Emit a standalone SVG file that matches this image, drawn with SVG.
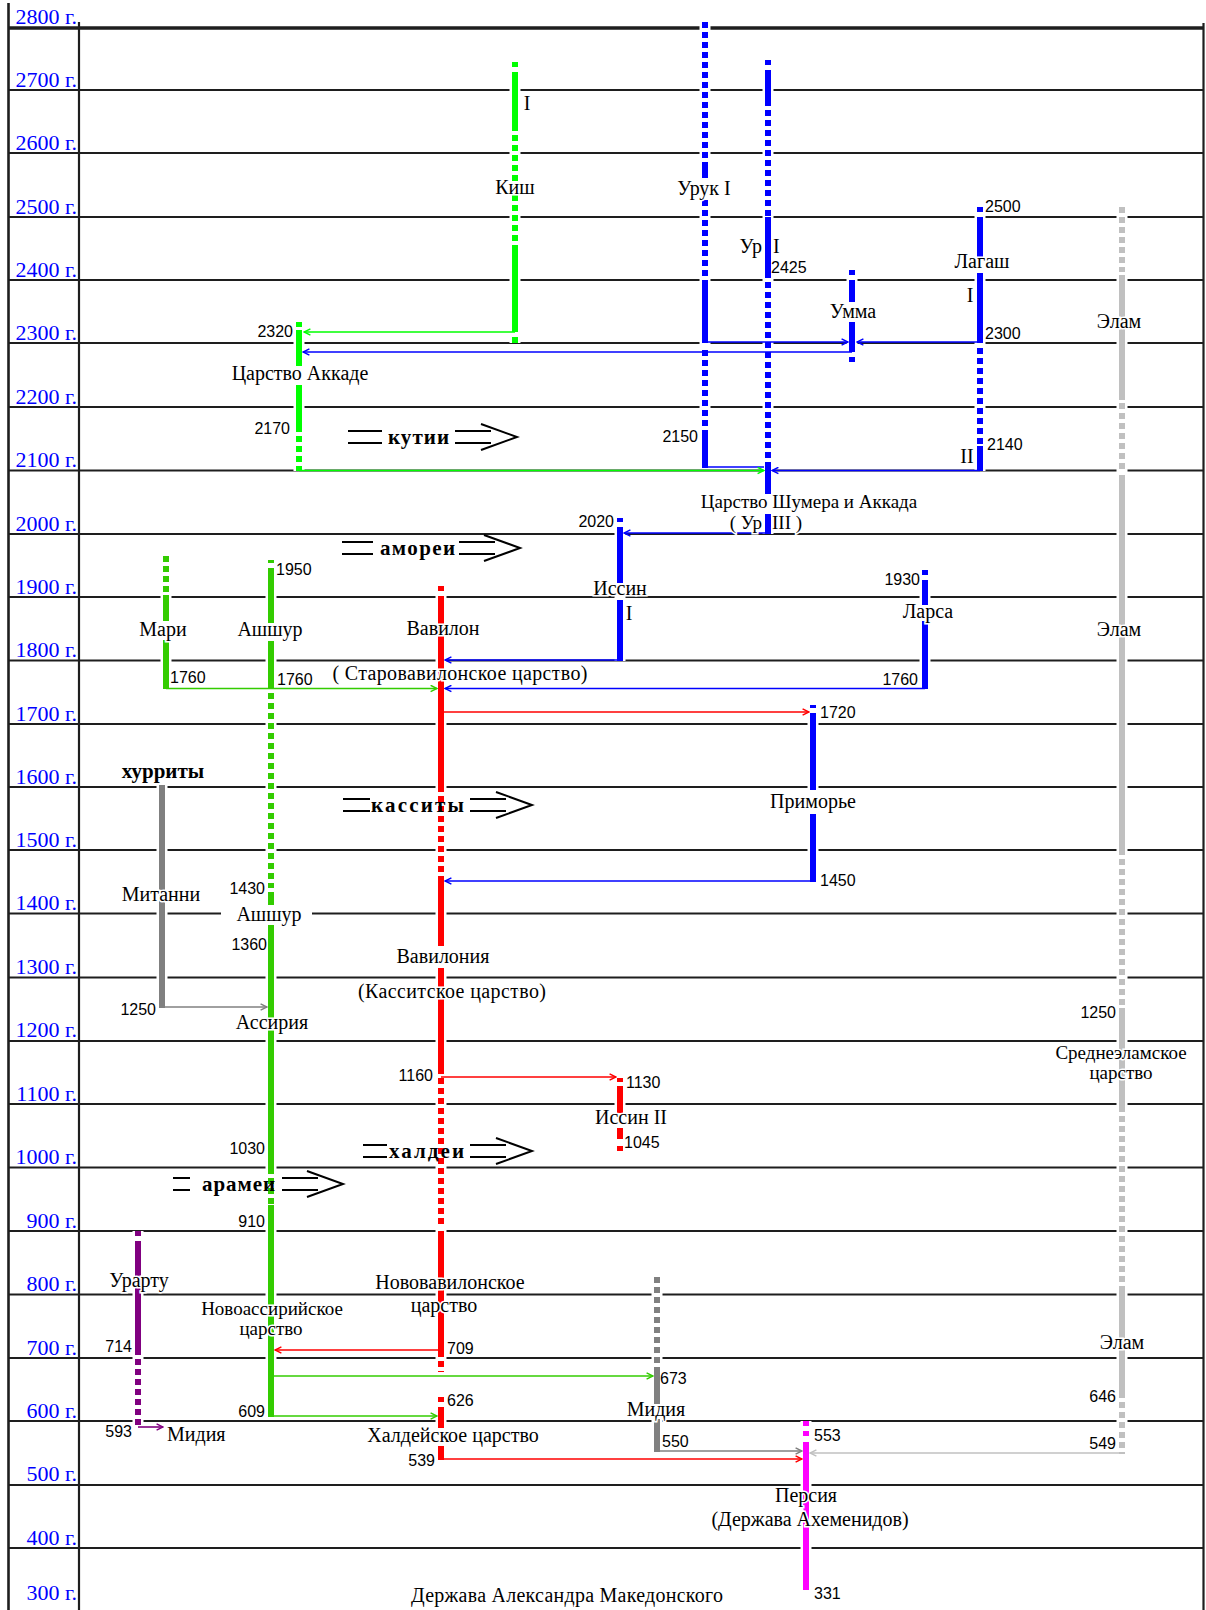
<svg xmlns="http://www.w3.org/2000/svg" width="1206" height="1610" viewBox="0 0 1206 1610">
<defs>
<style>
.grid{stroke:#1e1e1e;stroke-width:2;fill:none}
.frame{stroke:#1e1e1e;fill:none}
.mask{stroke:#fff;stroke-width:11;fill:none}
.bar{fill:none;stroke-width:6}
.dot{stroke-dasharray:6 4}
.g1{stroke:#00ff00}.g2{stroke:#33cc00}.b{stroke:#0000ff}.r{stroke:#ff0000}
.gr{stroke:#808080}.lg{stroke:#c0c0c0}.p{stroke:#800080}.m{stroke:#ff00ff}
.conn{fill:none;stroke-width:1.6}
.yr{font-family:"Liberation Serif",serif;font-size:22px;fill:#0000ff;text-anchor:end}
.lbl{font-family:"Liberation Serif",serif;font-size:20px;fill:#000;text-anchor:middle;stroke:#fff;stroke-width:3;paint-order:stroke}
.sm{font-size:19px}
.ls{text-anchor:start}.le{text-anchor:end}
.num{font-family:"Liberation Sans",sans-serif;font-size:16px;fill:#000}
.ne{text-anchor:end}
.mig{font-family:"Liberation Serif",serif;font-size:21px;font-weight:bold;fill:#000}
.migl{stroke:#000;stroke-width:2;fill:none}
</style>
<marker id="aG1" viewBox="0 0 10 10" refX="9" refY="5" markerWidth="8" markerHeight="8" markerUnits="userSpaceOnUse" orient="auto"><path d="M1,1 L9,5 L1,9" fill="none" stroke="#00ff00" stroke-width="1.8"/></marker>
<marker id="aG2" viewBox="0 0 10 10" refX="9" refY="5" markerWidth="8" markerHeight="8" markerUnits="userSpaceOnUse" orient="auto"><path d="M1,1 L9,5 L1,9" fill="none" stroke="#33cc00" stroke-width="1.8"/></marker>
<marker id="aB" viewBox="0 0 10 10" refX="9" refY="5" markerWidth="8" markerHeight="8" markerUnits="userSpaceOnUse" orient="auto"><path d="M1,1 L9,5 L1,9" fill="none" stroke="#0000ff" stroke-width="1.8"/></marker>
<marker id="aR" viewBox="0 0 10 10" refX="9" refY="5" markerWidth="8" markerHeight="8" markerUnits="userSpaceOnUse" orient="auto"><path d="M1,1 L9,5 L1,9" fill="none" stroke="#ff0000" stroke-width="1.8"/></marker>
<marker id="aGR" viewBox="0 0 10 10" refX="9" refY="5" markerWidth="8" markerHeight="8" markerUnits="userSpaceOnUse" orient="auto"><path d="M1,1 L9,5 L1,9" fill="none" stroke="#808080" stroke-width="1.8"/></marker>
<marker id="aLG" viewBox="0 0 10 10" refX="9" refY="5" markerWidth="8" markerHeight="8" markerUnits="userSpaceOnUse" orient="auto"><path d="M1,1 L9,5 L1,9" fill="none" stroke="#c0c0c0" stroke-width="1.8"/></marker>
<marker id="aP" viewBox="0 0 10 10" refX="9" refY="5" markerWidth="8" markerHeight="8" markerUnits="userSpaceOnUse" orient="auto"><path d="M1,1 L9,5 L1,9" fill="none" stroke="#800080" stroke-width="1.8"/></marker>
</defs>
<rect width="1206" height="1610" fill="#fff"/>

<g id="timeline-grid">
<path class="frame" stroke-width="3.5" d="M8,28H1203"/>
<path class="grid" d="M8,90H1203M8,153H1203M8,217H1203M8,280H1203M8,343H1203M8,407H1203M8,470.5H1203M8,534H1203M8,597H1203M8,660.5H1203M8,724H1203M8,787H1203M8,850H1203M8,913.5H1203M8,977.5H1203M8,1041H1203M8,1104H1203M8,1167.5H1203M8,1231H1203M8,1294.5H1203M8,1358H1203M8,1421H1203M8,1485H1203M8,1548H1203"/>
<path class="frame" stroke-width="2.6" d="M8.5,3V1610"/>
<path class="frame" stroke-width="2.2" d="M79,22V1610"/>
<path class="frame" stroke-width="2.2" d="M1203.5,23V1610"/>
<text class="yr" x="77" y="24">2800 г.</text>
<text class="yr" x="77" y="87">2700 г.</text>
<text class="yr" x="77" y="150">2600 г.</text>
<text class="yr" x="77" y="214">2500 г.</text>
<text class="yr" x="77" y="277">2400 г.</text>
<text class="yr" x="77" y="340">2300 г.</text>
<text class="yr" x="77" y="404">2200 г.</text>
<text class="yr" x="77" y="467">2100 г.</text>
<text class="yr" x="77" y="531">2000 г.</text>
<text class="yr" x="77" y="594">1900 г.</text>
<text class="yr" x="77" y="657">1800 г.</text>
<text class="yr" x="77" y="721">1700 г.</text>
<text class="yr" x="77" y="784">1600 г.</text>
<text class="yr" x="77" y="847">1500 г.</text>
<text class="yr" x="77" y="910">1400 г.</text>
<text class="yr" x="77" y="974">1300 г.</text>
<text class="yr" x="77" y="1037">1200 г.</text>
<text class="yr" x="77" y="1101">1100 г.</text>
<text class="yr" x="77" y="1164">1000 г.</text>
<text class="yr" x="77" y="1228">900 г.</text>
<text class="yr" x="77" y="1291">800 г.</text>
<text class="yr" x="77" y="1355">700 г.</text>
<text class="yr" x="77" y="1418">600 г.</text>
<text class="yr" x="77" y="1481">500 г.</text>
<text class="yr" x="77" y="1545">400 г.</text>
<text class="yr" x="77" y="1600">300 г.</text>
</g>

<g id="bar-gaps">
<path class="mask" d="M515,62V343M299,322V471M705,22V468M768,60V534M852,270V362M980,207V471M1122,207V1454M620,518V661M925,570V689M166,556V689M271,560V1417M441,586V1460M620,1078V1151M813,705V882M162,785V1008M138,1231V1428M657,1277V1452M806,1421V1590"/>
<rect x="221" y="907" width="91" height="13" fill="#fff"/>
</g>

<g id="connectors">
<path class="conn g1" d="M515,332H304" marker-end="url(#aG1)"/>
<path class="conn b" d="M705,342H848" marker-end="url(#aB)"/>
<path class="conn b" d="M980,342H857" marker-end="url(#aB)"/>
<path class="conn b" d="M852,352H303" marker-end="url(#aB)"/>
<path class="conn b" d="M705,467H764"/>
<path class="conn g1" d="M299,470.5H764" marker-end="url(#aG1)"/>
<path class="conn b" d="M980,470.5H772" marker-end="url(#aB)"/>
<path class="conn b" d="M768,533H624" marker-end="url(#aB)"/>
<path class="conn b" d="M620,660H445" marker-end="url(#aB)"/>
<path class="conn g2" d="M166,688.5H437" marker-end="url(#aG2)"/>
<path class="conn b" d="M925,688.5H445" marker-end="url(#aB)"/>
<path class="conn r" d="M441,712H809" marker-end="url(#aR)"/>
<path class="conn b" d="M813,881H445" marker-end="url(#aB)"/>
<path class="conn gr" d="M162,1007H267" marker-end="url(#aGR)"/>
<path class="conn r" d="M441,1077H616" marker-end="url(#aR)"/>
<path class="conn r" d="M441,1350H275" marker-end="url(#aR)"/>
<path class="conn g2" d="M271,1376H653" marker-end="url(#aG2)"/>
<path class="conn g2" d="M271,1416H437" marker-end="url(#aG2)"/>
<path class="conn p" d="M138,1427H163" marker-end="url(#aP)"/>
<path class="conn gr" d="M657,1451H802" marker-end="url(#aGR)"/>
<path class="conn r" d="M441,1459H802" marker-end="url(#aR)"/>
<path class="conn lg" d="M1122,1453H810" marker-end="url(#aLG)"/>
</g>

<g id="kish">
<path class="bar g1" d="M515,62V67M515,72V125M515,247V332M515,337V343"/>
<path class="bar g1 dot" d="M515,125V247"/>
<text class="lbl" x="527" y="110">I</text>
<text class="lbl" x="515" y="194">Киш</text>
</g>

<g id="akkad">
<path class="bar g1" d="M299,322V327M299,330V366M299,385V426"/>
<path class="bar g1 dot" d="M299,426V471"/>
<text class="num ne" x="293" y="337">2320</text>
<text class="lbl" x="300" y="380">Царство Аккаде</text>
<text class="num ne" x="290" y="434">2170</text>
</g>

<g id="uruk">
<path class="bar b" d="M705,163V178M705,283V343M705,433V468"/>
<path class="bar b dot" d="M705,22V163M705,200V283M705,350V433"/>
<text class="lbl" x="704" y="195">Урук I</text>
<text class="num ne" x="698" y="442">2150</text>
</g>

<g id="ur">
<path class="bar b" d="M768,60V65M768,70V100M768,217V272M768,463V494M768,514V534"/>
<path class="bar b dot" d="M768,100V217M768,272V463"/>
<text class="lbl le" x="762" y="253">Ур</text>
<text class="lbl ls" x="773" y="253">I</text>
<text class="num" x="771" y="273">2425</text>
<text class="lbl sm" x="809" y="508">Царство Шумера и Аккада</text>
<text class="lbl sm le" x="762" y="529">( Ур</text>
<text class="lbl sm ls" x="772" y="529">III )</text>
</g>

<g id="umma">
<path class="bar b" d="M852,270V275M852,280V302M852,322V352M852,357V362"/>
<text class="lbl" x="853" y="318">Умма</text>
</g>

<g id="lagash">
<path class="bar b" d="M980,207V212M980,217V257M980,273V343M980,446V471"/>
<path class="bar b dot" d="M980,348V446"/>
<text class="num" x="985" y="212">2500</text>
<text class="lbl" x="982" y="268">Лагаш</text>
<text class="lbl" x="970" y="302">I</text>
<text class="num" x="985" y="339">2300</text>
<text class="num" x="987" y="450">2140</text>
<text class="lbl" x="967" y="463">II</text>
</g>

<g id="elam">
<path class="bar lg" d="M1122,275V400M1122,475V849M1122,1008V1106M1122,1287V1392"/>
<path class="bar lg dot" d="M1122,207V272M1122,403V470M1122,849V1008M1122,1106V1287M1122,1392V1454"/>
<text class="lbl" x="1119" y="328">Элам</text>
<text class="lbl" x="1119" y="636">Элам</text>
<text class="num ne" x="1116" y="1018">1250</text>
<text class="lbl sm" x="1121" y="1059">Среднеэламское</text>
<text class="lbl sm" x="1121" y="1079">царство</text>
<text class="lbl" x="1122" y="1349">Элам</text>
<text class="num ne" x="1116" y="1402">646</text>
<text class="num ne" x="1116" y="1449">549</text>
</g>

<g id="issin-1">
<path class="bar b" d="M620,518V522M620,527V583M620,600V661"/>
<text class="num ne" x="614" y="527">2020</text>
<text class="lbl" x="620" y="595">Иссин</text>
<text class="lbl" x="629" y="620">I</text>
</g>

<g id="larsa">
<path class="bar b" d="M925,570V575M925,580V605M925,621V689"/>
<text class="num ne" x="920" y="585">1930</text>
<text class="lbl" x="928" y="618">Ларса</text>
<text class="num ne" x="918" y="685">1760</text>
</g>

<g id="mari">
<path class="bar g2 dot" d="M166,556V595"/>
<path class="bar g2" d="M166,595V621M166,640V689"/>
<text class="lbl" x="163" y="636">Мари</text>
<text class="num" x="170" y="683">1760</text>
</g>

<g id="ashur-assyria">
<path class="bar g2" d="M271,560V563M271,568V623M271,641V689M271,892V905M271,925V1168M271,1205V1417"/>
<path class="bar g2 dot" d="M271,693V888M271,1168V1205"/>
<text class="num" x="276" y="575">1950</text>
<text class="lbl" x="270" y="636">Ашшур</text>
<text class="num" x="277" y="685">1760</text>
<text class="num ne" x="265" y="894">1430</text>
<text class="lbl" x="269" y="921">Ашшур</text>
<text class="num ne" x="267" y="950">1360</text>
<text class="lbl" x="272" y="1029">Ассирия</text>
<text class="num ne" x="265" y="1154">1030</text>
<text class="num ne" x="265" y="1227">910</text>
<text class="lbl sm" x="272" y="1315">Новоассирийское</text>
<text class="lbl sm" x="271" y="1335">царство</text>
<text class="num ne" x="265" y="1417">609</text>
</g>

<g id="babylon">
<path class="bar r" d="M441,586V591M441,596V786M441,878V946M441,968V1068M441,1231V1351"/>
<path class="bar r dot" d="M441,786V878M441,1068V1228M441,1351V1372"/>
<text class="lbl" x="443" y="635">Вавилон</text>
<text class="lbl" x="460" y="680" textLength="255">( Старовавилонское царство)</text>
<text class="lbl" x="443" y="963">Вавилония</text>
<text class="lbl" x="452" y="998" textLength="188">(Касситское царство)</text>
<text class="num ne" x="433" y="1081">1160</text>
<text class="lbl" x="450" y="1289">Нововавилонское</text>
<text class="lbl" x="444" y="1312">царство</text>
<text class="num" x="447" y="1354">709</text>
</g>

<g id="chaldean">
<path class="bar r" d="M441,1397V1402M441,1407V1428M441,1446V1460"/>
<text class="num" x="447" y="1406">626</text>
<text class="lbl" x="453" y="1442">Халдейское царство</text>
<text class="num ne" x="435" y="1466">539</text>
</g>

<g id="issin-2">
<path class="bar r" d="M620,1078V1082M620,1086V1113M620,1128V1139M620,1146V1151"/>
<text class="num" x="626" y="1088">1130</text>
<text class="lbl" x="631" y="1124">Иссин II</text>
<text class="num" x="624" y="1148">1045</text>
</g>

<g id="primorye">
<path class="bar b" d="M813,705V708M813,713V790M813,814V882"/>
<text class="num" x="820" y="718">1720</text>
<text class="lbl" x="813" y="808">Приморье</text>
<text class="num" x="820" y="886">1450</text>
</g>

<g id="mitanni">
<path class="bar gr" stroke-width="5" d="M162,785V1008"/>
<text class="lbl" x="161" y="901">Митанни</text>
<text class="num ne" x="156" y="1015">1250</text>
</g>

<g id="urartu">
<path class="bar p" d="M138,1231V1236M138,1241V1349"/>
<path class="bar p dot" d="M138,1349V1428"/>
<text class="lbl" x="139" y="1287">Урарту</text>
<text class="num ne" x="132" y="1352">714</text>
<text class="num ne" x="132" y="1437">593</text>
<text class="lbl ls" x="167" y="1441">Мидия</text>
</g>

<g id="media">
<path class="bar gr dot" d="M657,1277V1372"/>
<path class="bar gr" d="M657,1372V1404M657,1419V1452"/>
<text class="num" x="660" y="1384">673</text>
<text class="lbl" x="656" y="1416">Мидия</text>
<text class="num" x="662" y="1447">550</text>
</g>

<g id="persia">
<path class="bar m" d="M806,1421V1426M806,1431V1436M806,1442V1590"/>
<text class="num" x="814" y="1441">553</text>
<text class="lbl" x="806" y="1502">Персия</text>
<text class="lbl" x="810" y="1526">(Держава Ахеменидов)</text>
<text class="num" x="814" y="1599">331</text>
</g>

<g id="alexander">
<text class="lbl" x="567" y="1602" textLength="312">Держава Александра Македонского</text>
</g>

<g id="mig-hurrians">
<text class="mig" x="163" y="778" text-anchor="middle">хурриты</text>
</g>

<g id="mig-kutii">
<path class="migl" d="M348,431H382M348,443H382M455,431H491M455,443H491M481,424L517,437L481,450"/>
<text class="mig" x="388" y="444" textLength="61">кутии</text>
</g>
<g id="mig-amorites">
<path class="migl" d="M342,542H373M342,554H373M459,542H495M459,554H495M484,535L520,548L484,561"/>
<text class="mig" x="380" y="555" textLength="75">амореи</text>
</g>
<g id="mig-kassites">
<path class="migl" d="M343,799H370M343,811H370M470,799H506M470,811H506M496,792L532,805L496,818"/>
<text class="mig" x="371" y="812" textLength="93">касситы</text>
</g>
<g id="mig-chaldeans">
<path class="migl" d="M363,1145H387M363,1157H387M470,1145H506M470,1157H506M496,1138L532,1151L496,1164"/>
<text class="mig" x="389" y="1158" textLength="75">халдеи</text>
</g>
<g id="mig-arameans">
<path class="migl" d="M173,1178H190M173,1190H190M282,1178H318M282,1190H318M307,1171L343,1184L307,1197"/>
<text class="mig" x="202" y="1191" textLength="73">арамеи</text>
</g>
</svg>
